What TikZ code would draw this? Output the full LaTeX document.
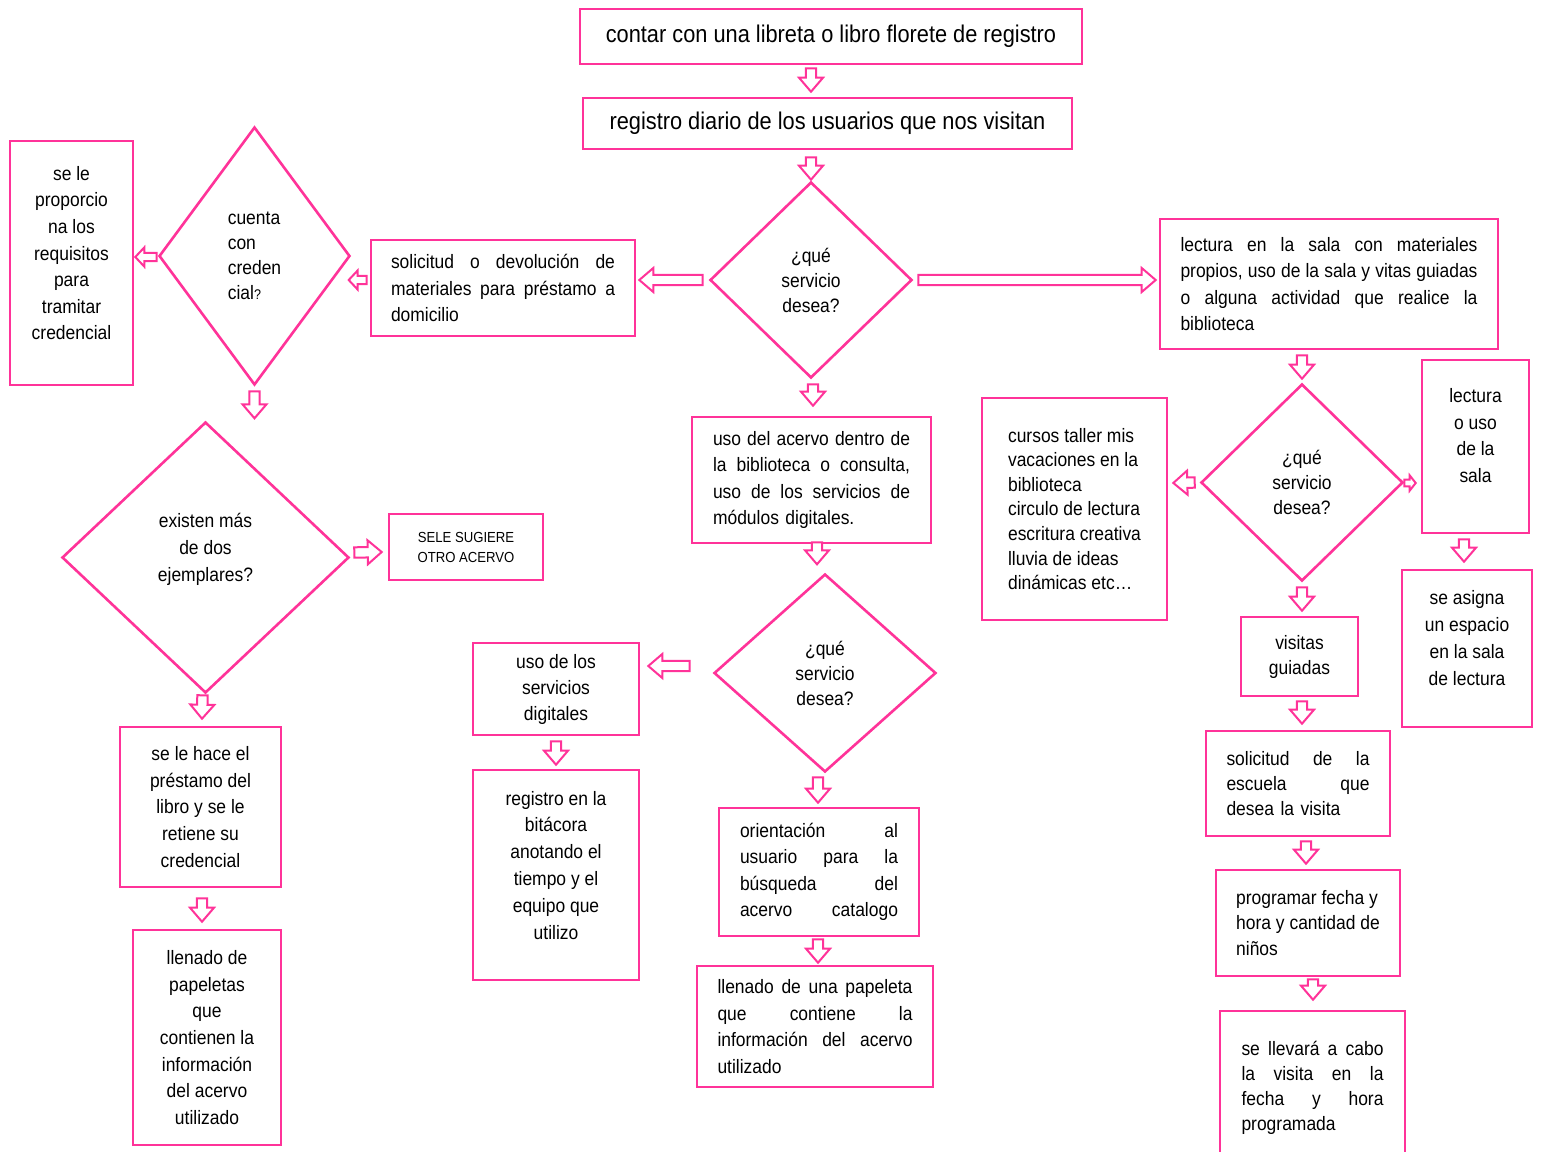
\documentclass[tikz,border=0pt]{standalone}
\usepackage{fontspec}
\setmainfont[FakeStretch=0.9]{Liberation Sans}
\usetikzlibrary{shapes.geometric,calc}
\definecolor{flow}{RGB}{255,51,153}
% one justified line of a block (font interword glue, so it can stretch)
\newcommand\jl[1]{\leavevmode\hbox to\hsize{\spaceskip=0pt\xspaceskip=0pt #1}}
% extra depth under the last line, to lift a text block
\newcommand\lowdepth[1]{\rule[-#1]{0pt}{#1}}
\newcommand\fs[1]{\fontsize{9.7}{#1}\selectfont}

\tikzset{
  x=0.5pt, y=-0.5pt,
  box/.style={draw=flow, line width=1.3pt, fill=white, inner sep=0pt,
    text=black, font=\fs{13.25}, align=left},
  dia/.style={shape=diamond, draw=flow, line width=1.3pt, fill=white,
    inner sep=0pt, text=black, font=\fs{12.5}, align=center},
  arrow sizes/.code n args={3}{\def\asw{#1}\def\ahw{#2}\def\ahl{#3}},
  blockarrow/.style={draw=flow, fill=white, line width=1pt, line join=miter,
    arrow sizes={2.6pt}{6pt}{7pt},
    to path={
      (\tikztostart) coordinate (ah-tail)
      (\tikztotarget) coordinate (ah-tip)
      ($(ah-tip)!\ahl!(ah-tail)$) coordinate (ah-base)
      ($(ah-tail)!\asw!90:(ah-tip)$)
      -- ($(ah-base)!\asw!90:(ah-tip)$)
      -- ($(ah-base)!\ahw!90:(ah-tip)$)
      -- (ah-tip)
      -- ($(ah-base)!\ahw!-90:(ah-tip)$)
      -- ($(ah-base)!\asw!-90:(ah-tip)$)
      -- ($(ah-tail)!\asw!-90:(ah-tip)$)
      -- cycle}},
  mid arrow/.style={arrow sizes={2.1pt}{4.8pt}{4.5pt}},
  small arrow/.style={arrow sizes={1.7pt}{3.8pt}{3pt}},
}

\begin{document}
\begin{tikzpicture}
\path[use as bounding box, fill=white] (0,0) rectangle (1541,1151);

% main trunk
\node[box, minimum width=251pt, minimum height=27.5pt, font=\fontsize{12.1}{14}\selectfont]
  (n1) at (831,36.5) {contar con una libreta o libro florete de registro};
\node[box, minimum width=244.5pt, minimum height=25.5pt, font=\fontsize{12.1}{14}\selectfont]
  (n2) at (827.5,123.5) {registro diario de los usuarios que nos visitan};
\node[dia, minimum width=101pt, minimum height=98pt] (d1) at (811,280) {¿qué\\servicio\\desea?};

% loans at home
\node[box, text width=112pt, minimum width=132pt, minimum height=48pt] (n4) at (503,288)
  {\jl{solicitud o devolución de}\\\jl{materiales para préstamo a}\\domicilio};
\node[dia, minimum width=95.5pt, minimum height=129pt, align=left] (d2) at (254.5,256)
  {cuenta\\con\\creden\\cial{\fontsize{7}{7}\selectfont?}};
\node[box, align=center, minimum width=61.5pt, minimum height=122pt, font=\fs{13.3}] (n6) at (71.5,263)
  {se le\\proporcio\\na los\\requisitos\\para\\tramitar\\credencial\lowdepth{10pt}};
\node[dia, minimum width=143.5pt, minimum height=135.5pt, font=\fs{13.5}] (d5) at (205.5,557.5)
  {existen más\\de dos\\ejemplares?\lowdepth{10pt}};
\node[box, align=center, minimum width=77pt, minimum height=33pt, font=\fontsize{7.3}{10}\selectfont]
  (n23) at (466,547) {SELE SUGIERE\\OTRO ACERVO};
\node[box, align=center, minimum width=80.5pt, minimum height=80pt, font=\fs{13.4}] (n24) at (200.5,807)
  {se le hace el\\préstamo del\\libro y se le\\retiene su\\credencial};
\node[box, align=center, minimum width=74pt, minimum height=107.5pt, font=\fs{13.35}] (n25) at (207,1037.5)
  {llenado de\\papeletas\\que\\contienen la\\información\\del acervo\\utilizado};

% use of the collection inside the library
\node[box, text width=98.5pt, minimum width=119.5pt, minimum height=63pt] (n16) at (811.5,480)
  {\jl{uso del acervo dentro de}\\\jl{la biblioteca o consulta,}\\\jl{uso de los servicios de}\\módulos digitales.};
\node[dia, minimum width=111pt, minimum height=99pt] (d4) at (825,673) {¿qué\\servicio\\desea?};
\node[box, align=center, minimum width=83pt, minimum height=46pt, font=\fs{13}] (n18) at (556,689)
  {uso de los\\servicios\\digitales};
\node[box, align=center, minimum width=83pt, minimum height=105pt, font=\fs{13.4}] (n19) at (556,875)
  {registro en la\\bitácora\\anotando el\\tiempo y el\\equipo que\\utilizo\lowdepth{10pt}};
\node[box, text width=79pt, minimum width=100pt, minimum height=64pt] (n20) at (819,872)
  {\jl{orientación al}\\\jl{usuario para la}\\\jl{búsqueda del}\\\jl{acervo catalogo}};
\node[box, text width=97.5pt, minimum width=118pt, minimum height=60.5pt] (n21) at (815,1026.5)
  {\jl{llenado de una papeleta}\\\jl{que contiene la}\\\jl{información del acervo}\\utilizado};

% reading room and activities
\node[box, text width=148.5pt, minimum width=169pt, minimum height=65pt] (n7) at (1329,284)
  {\jl{lectura en la sala con materiales}\\\jl{propios, uso de la sala y vitas guiadas}\\\jl{o alguna actividad que realice la}\\biblioteca};
\node[dia, minimum width=101pt, minimum height=98.5pt] (d3) at (1302,482.5) {¿qué\\servicio\\desea?};
\node[box, align=center, minimum width=53.5pt, minimum height=86.5pt, font=\fs{13.2}] (n9) at (1475.5,446.5)
  {lectura\\o uso\\de la\\sala\lowdepth{11pt}};
\node[box, align=center, minimum width=65pt, minimum height=78.5pt, font=\fs{13.5}] (n10) at (1467,648.5)
  {se asigna\\un espacio\\en la sala\\de lectura\lowdepth{11pt}};
\node[box, minimum width=92.5pt, minimum height=111pt, font=\fs{12.3}] (n11) at (1074.5,509)
  {cursos taller mis\\vacaciones en la\\biblioteca\\circulo de lectura\\escritura creativa\\lluvia de ideas\\dinámicas etc…};
\node[box, align=center, minimum width=58.5pt, minimum height=39.5pt, font=\fs{12.5}] (n12) at (1299.5,656.5)
  {visitas\\guiadas};
\node[box, text width=71.5pt, minimum width=92pt, minimum height=52.5pt, font=\fs{12.5}] (n13) at (1298,783.5)
  {\jl{solicitud de la}\\\jl{escuela que}\\desea la visita};
\node[box, minimum width=92pt, minimum height=53pt, font=\fs{12.75}] (n14) at (1308,923)
  {programar fecha y\\hora y cantidad de\\niños};
\node[box, text width=71pt, minimum width=92.5pt, minimum height=77pt, font=\fs{12.4}] (n15) at (1312.5,1088)
  {\jl{se llevará a cabo}\\\jl{la visita en la}\\\jl{fecha y hora}\\programada};

% connectors
\draw[blockarrow] ($(n1.south)+(-20,3)$) to ($(n2.north)+(-16.5,-5)$);
\draw[blockarrow] ($(n2.south)+(-16.5,7)$) to ($(d1.north)+(0,-1)$);
\draw[blockarrow] ($(d1.west)+(-6,0)$) to ($(n4.east)+(3,-8)$);
\draw[blockarrow] ($(d1.east)+(5,0)$) to ($(n7.west)+(-3,-4)$);
\draw[blockarrow, mid arrow] ($(n4.west)+(-3,-8)$) to ($(n4.west)+(-21,-8)$);
\draw[blockarrow, mid arrow] ($(d2.west)+(-1,1)$) to ($(n6.east)+(1,-6)$);
\draw[blockarrow] ($(d2.south)+(0,5)$) to ($(d2.south)+(0,32)$);
\draw[blockarrow] ($(d5.east)+(4,-5)$) to ($(n23.west)+(-6,5)$);
\draw[blockarrow] ($(d5.south)+(-3,1)$) to ($(n24.north)+(1.5,-7)$);
\draw[blockarrow] ($(n24.south)+(1.5,10)$) to ($(n25.north)+(-5,-7)$);
\draw[blockarrow] ($(d1.south)+(2,5)$) to ($(n16.north)+(1.5,-10)$);
\draw[blockarrow] ($(n16.south)+(5.5,-2)$) to ($(n16.south)+(5.5,20)$);
\draw[blockarrow] ($(d4.west)+(-23,-7)$) to ($(n18.east)+(8,-23)$);
\draw[blockarrow] ($(n18.south)+(0,5)$) to ($(n19.north)+(0,-4)$);
\draw[blockarrow] ($(d4.south)+(-7,4)$) to ($(n20.north)+(-1,-4)$);
\draw[blockarrow] ($(n20.south)+(-1,2)$) to ($(n21.north)+(3,-2)$);
\draw[blockarrow] ($(n7.south)+(-27,5)$) to ($(d3.north)+(0,-4)$);
\draw[blockarrow] ($(d3.west)+(-5,0)$) to ($(n11.east)+(5,-26)$);
\draw[blockarrow, small arrow] ($(d3.east)+(0,0.5)$) to ($(n9.west)+(-5,36.5)$);
\draw[blockarrow] ($(n9.south)+(-11.5,5)$) to ($(n10.north)+(-3,-7)$);
\draw[blockarrow] ($(d3.south)+(0,5)$) to ($(n12.north)+(2.5,-5)$);
\draw[blockarrow] ($(n12.south)+(2.5,4)$) to ($(n13.north)+(4,-6)$);
\draw[blockarrow] ($(n13.south)+(8,4)$) to ($(n14.north)+(-2,-5)$);
\draw[blockarrow] ($(n14.south)+(5,2)$) to ($(n15.north)+(0.5,-10)$);
\end{tikzpicture}
\end{document}
